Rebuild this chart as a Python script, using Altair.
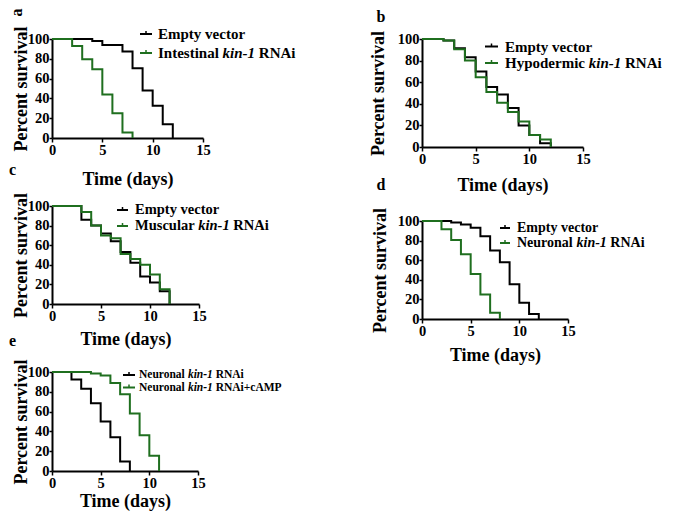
import altair as alt
import pandas as pd

# ---------------- data ----------------
x_ticks = [0, 5, 10, 15]
y_ticks = [0, 20, 40, 60, 80, 100]

# a: Empty vector vs Intestinal kin-1 RNAi
a_ev_days = [0, 4, 5, 7, 8, 9, 10, 11, 12]
a_ev_surv = [100, 98, 94, 87.5, 70.5, 48, 32.5, 14, 0]
a_ki_days = [0, 2, 3, 4, 5, 6, 7, 8]
a_ki_surv = [100, 93, 79.5, 69.5, 44, 25, 5.5, 0]

# b: Empty vector vs Hypodermic kin-1 RNAi
b_ev_days = [0, 2, 3, 4, 5, 6, 7, 8, 9, 10, 11, 12]
b_ev_surv = [100, 98.5, 91.5, 83, 70, 55.5, 48.5, 36, 20, 11, 3.5, 0]
b_ki_days = [0, 2, 3, 4, 5, 6, 7, 8, 9, 10, 11, 12]
b_ki_surv = [100, 98.5, 90.5, 80, 64.5, 51, 41, 32.5, 23.5, 11, 7, 0]

# c: Empty vector vs Muscular kin-1 RNAi
c_ev_days = [0, 3, 4, 5, 6, 7, 8, 9, 10, 11, 12]
c_ev_surv = [100, 86, 80, 72, 64, 53, 42, 28, 22, 13, 0]
c_ki_days = [0, 3, 4, 5, 6, 7, 8, 9, 10, 11, 12]
c_ki_surv = [100, 94, 80, 70, 67, 51, 46, 40, 30, 15, 0]

# d: Empty vector vs Neuronal kin-1 RNAi
d_ev_days = [0, 3, 4, 5, 6, 7, 8, 9, 10, 11, 12]
d_ev_surv = [100, 98.5, 96.5, 93, 84.5, 70, 58, 35.5, 16.5, 5, 0]
d_ki_days = [0, 2, 3, 4, 5, 6, 7, 8]
d_ki_surv = [100, 91.5, 80.5, 66, 46, 25, 6.5, 0]

# e: Neuronal kin-1 RNAi vs Neuronal kin-1 RNAi + cAMP
e_ki_days = [0, 2, 3, 4, 5, 6, 7, 8]
e_ki_surv = [100, 92.5, 83, 68.5, 50, 34, 9.5, 0]
e_camp_days = [0, 4, 5, 6, 7, 8, 9, 10, 11]
e_camp_surv = [100, 98.5, 96.5, 89, 77.5, 58, 36, 15.5, 0]

# ---------------- style ----------------
SERIF = "Liberation Serif"
BLACK = "#000000"
GREEN = "#1f6f1f"

# Times-Bold / Times-BoldItalic advance widths (per 1000 em) for legend text runs
W_B = {" ": 250, "(": 333, ")": 333, "+": 570, "-": 333, "1": 500, "A": 722, "E": 667,
       "H": 778, "I": 389, "M": 944, "N": 722, "P": 611, "R": 722, "a": 500, "c": 444,
       "d": 556, "e": 444, "i": 278, "l": 278, "m": 833, "n": 556, "o": 500, "p": 556,
       "r": 444, "s": 389, "t": 333, "u": 556, "v": 500, "y": 500, "k": 556, "b": 556}
W_BI = {"k": 500, "i": 278, "n": 556, "-": 333, "1": 500, " ": 250}


def tw(s, italic, fs):
    tbl = W_BI if italic else W_B
    return sum(tbl.get(ch, 500) for ch in s) / 1000.0 * fs


def one():
    return pd.DataFrame({"k": [0]})


def text_layer(s, x, y, fs, italic=False, align="left", baseline="middle", angle=0):
    kw = dict(text=s, font=SERIF, fontSize=fs, fontWeight="bold", align=align,
              baseline=baseline, color="black")
    if italic:
        kw["fontStyle"] = "italic"
    if angle:
        kw["angle"] = angle
    return alt.Chart(one()).mark_text(**kw).encode(x=alt.value(x), y=alt.value(y))


def rule_layer(x1, x2, y1, y2, color, sw=2):
    return alt.Chart(one()).mark_rule(color=color, strokeWidth=sw).encode(
        x=alt.value(x1), x2=alt.value(x2), y=alt.value(y1), y2=alt.value(y2))


def panel(p):
    w, h = p["w"], p["h"]
    xaxis = alt.Axis(values=x_ticks, title="Time (days)", titleX=w / 2, titleY=p["xty"],
                     titleAlign="center", titleBaseline="alphabetic", titleAngle=0,
                     titleFontSize=18, tickSize=4, labelPadding=1)
    yaxis = alt.Axis(values=y_ticks, title="Percent survival", titleX=p["ytx"], titleY=h / 2,
                     titleAlign="center", titleBaseline="alphabetic", titleAngle=270,
                     titleFontSize=18, tickSize=3, labelPadding=0)
    layers = []
    for days, surv, color in p["series"]:
        df = pd.DataFrame({"day": days, "surv": surv})
        layers.append(
            alt.Chart(df).mark_line(interpolate="step-after", color=color, strokeWidth=2).encode(
                x=alt.X("day:Q", scale=alt.Scale(domain=[0, 15], nice=False, zero=False), axis=xaxis),
                y=alt.Y("surv:Q", scale=alt.Scale(domain=[0, 100], nice=False), axis=yaxis),
            )
        )
    # panel letter
    lx, ly, lang, lbase = p["letter_pos"]
    layers.append(text_layer(p["letter"], lx, ly, 16, align="center", baseline=lbase, angle=lang))
    # legend
    sx1, sx2, tx, rows_y = p["leg_geom"]
    fs = p["leg_fs"]
    for (color, runs), ry in zip(p["legend"], rows_y):
        layers.append(rule_layer(sx1, sx2, ry, ry, color))
        xc = (sx1 + sx2) / 2
        layers.append(rule_layer(xc, xc, ry - 3, ry, color, 1.5))
        x = tx
        for s, it in runs:
            lead = len(s) - len(s.lstrip(" "))
            layers.append(text_layer(s.strip(), x + tw(" " * lead, it, fs), ry, fs, italic=it))
            x += tw(s, it, fs)
    return alt.layer(*layers).properties(width=w, height=h)


pa = panel(dict(
    w=151, h=99, xty=46, ytx=-26, letter="a", letter_pos=(-35, -26.5, 270, "middle"),
    series=[(a_ev_days, a_ev_surv, BLACK), (a_ki_days, a_ki_surv, GREEN)],
    leg_geom=(88, 100, 106, [-5, 14]), leg_fs=15,
    legend=[(BLACK, [("Empty vector", False)]),
            (GREEN, [("Intestinal ", False), ("kin-1", True), (" RNAi", False)])],
))
pb = panel(dict(
    w=161, h=108, xty=43, ytx=-39, letter="b", letter_pos=(-41, -17.5, 0, "alphabetic"),
    series=[(b_ev_days, b_ev_surv, BLACK), (b_ki_days, b_ki_surv, GREEN)],
    leg_geom=(63, 76, 83, [7.5, 24]), leg_fs=15,
    legend=[(BLACK, [("Empty vector", False)]),
            (GREEN, [("Hypodermic ", False), ("kin-1", True), (" RNAi", False)])],
))
pc = panel(dict(
    w=147, h=98, xty=40, ytx=-26, letter="c", letter_pos=(-39.5, -31, 0, "alphabetic"),
    series=[(c_ev_days, c_ev_surv, BLACK), (c_ki_days, c_ki_surv, GREEN)],
    leg_geom=(65, 76, 83, [4, 20]), leg_fs=14.5,
    legend=[(BLACK, [("Empty vector", False)]),
            (GREEN, [("Muscular ", False), ("kin-1", True), (" RNAi", False)])],
))
pd_ = panel(dict(
    w=146, h=98, xty=41, ytx=-37, letter="d", letter_pos=(-41, -31, 0, "alphabetic"),
    series=[(d_ev_days, d_ev_surv, BLACK), (d_ki_days, d_ki_surv, GREEN)],
    leg_geom=(78, 88, 95, [7, 22]), leg_fs=14,
    legend=[(BLACK, [("Empty vector", False)]),
            (GREEN, [("Neuronal ", False), ("kin-1", True), (" RNAi", False)])],
))
pe = panel(dict(
    w=146, h=99, xty=35, ytx=-26, letter="e", letter_pos=(-39.5, -26, 0, "alphabetic"),
    series=[(e_ki_days, e_ki_surv, BLACK), (e_camp_days, e_camp_surv, GREEN)],
    leg_geom=(71, 83, 87, [3, 15.5]), leg_fs=11.5,
    legend=[(BLACK, [("Neuronal ", False), ("kin-1", True), (" RNAi", False)]),
            (GREEN, [("Neuronal ", False), ("kin-1", True), (" RNAi+cAMP", False)])],
))

left = alt.vconcat(pa, pc, pe, spacing=68, bounds="flush")
right = alt.vconcat(pb, pd_, spacing=74, bounds="flush")
chart = alt.hconcat(left, right, spacing=370, bounds="flush").properties(
    autosize=alt.AutoSizeParams(type="none"),
    padding={"left": 44, "top": 31, "right": 615, "bottom": 479},
)
chart = chart.configure_view(stroke=None).configure_axis(
    domainColor="black", domainWidth=2, tickColor="black", tickWidth=1.5,
    labelFont=SERIF, labelFontSize=14.5, labelFontWeight="bold", labelColor="black",
    labelFlush=False, labelOverlap=False, grid=False,
    titleFont=SERIF, titleFontWeight="bold", titleColor="black",
)

chart.save("out.html", embed_options={"renderer": "svg", "actions": False})
